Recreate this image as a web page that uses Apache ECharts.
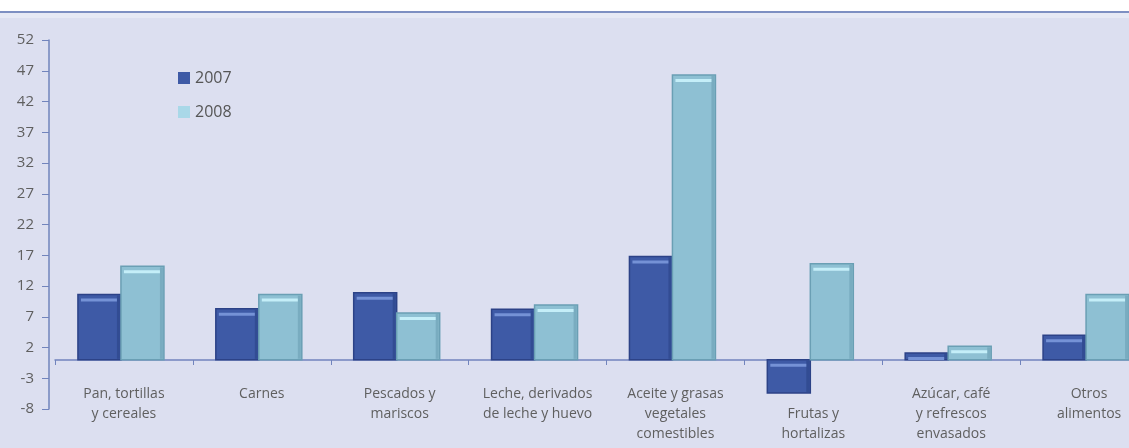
<!DOCTYPE html>
<html>
<head>
<meta charset="utf-8">
<script src="https://cdn.jsdelivr.net/npm/echarts@6/dist/echarts.min.js"></script>
<style>
  html, body { margin: 0; padding: 0; background: #ffffff; }
  #chart { width: 1129px; height: 448px; }
</style>
</head>
<body>
<div id="chart"></div>
<script>
const categorias = [
  "Pan, tortillas\ny cereales",
  "Carnes",
  "Pescados y\nmariscos",
  "Leche, derivados\nde leche y huevo",
  "Aceite y grasas\nvegetales\ncomestibles",
  "Frutas y\nhortalizas",
  "Azúcar, café\ny refrescos\nenvasados",
  "Otros\nalimentos"
];
const valores2007 = [10.6, 8.3, 10.9, 8.2, 16.8, -5.4, 1.1, 4.0];
const valores2008 = [15.2, 10.6, 7.6, 8.9, 46.3, 15.6, 2.2, 10.6];
const anios = ["2007", "2008"];

const colores = {
  "2007": { cuerpo: "#3e5aa6", borde: "#2c4287", franja: "#7592d6" },
  "2008": { cuerpo: "#8ec0d3", borde: "#6a9fb4", franja: "#c4eef8" }
};

const ANCHO = 43;

// barra con bisel: cuerpo, borde y franja clara arriba
const dibujarBarra = (lado, c) => (params, api) => {
  const cat = api.value(0);
  const val = api.value(1);
  const base = api.coord([cat, 0]);
  const tope = api.coord([cat, val]);
  const x = base[0] - 3 + (lado < 0 ? -ANCHO : 0);
  const y = Math.min(base[1], tope[1]);
  const h = Math.abs(base[1] - tope[1]);
  return {
    type: "group",
    children: [
      { type: "rect", shape: { x: x, y: y, width: ANCHO, height: h },
        style: { fill: c.cuerpo, stroke: c.borde, lineWidth: 1.5 } },
      { type: "rect", shape: { x: x + ANCHO - 4, y: y + 1, width: 3, height: Math.max(h - 2, 0) },
        style: { fill: c.borde, opacity: 0.6 } },
      { type: "rect", shape: { x: x + 3, y: y + 4, width: ANCHO - 7, height: Math.min(3, h) },
        style: { fill: c.franja } }
    ]
  };
};

const chart = echarts.init(document.getElementById("chart"));

chart.setOption({
  backgroundColor: "#dcdff0",
  animation: false,
  graphic: [
    { type: "rect", shape: { x: 0, y: 0, width: 1129, height: 11 }, style: { fill: "#ffffff" } },
    { type: "rect", shape: { x: 0, y: 11, width: 1129, height: 2 }, style: { fill: "#7d8fc2" } },
    { type: "rect", shape: { x: 0, y: 13, width: 1129, height: 5 }, style: { fill: "#e6e9f5" } }
  ],
  legend: {
    orient: "vertical",
    left: 173,
    top: 65,
    itemWidth: 12,
    itemHeight: 12,
    itemGap: 18,
    icon: "rect",
    textStyle: { color: "#555", fontSize: 16, fontFamily: "Open Sans" },
    data: anios
  },
  grid: { left: 55, right: -29, top: 40, bottom: 39, outerBoundsMode: "none" },
  xAxis: {
    type: "category",
    data: categorias,
    offset: -49,
    axisLine: { onZero: false, lineStyle: { color: "#7184bd", width: 1.5 } },
    axisTick: { show: true, length: 5, lineStyle: { color: "#7184bd" } },
    axisLabel: {
      color: "#5f5f5f",
      fontSize: 14,
      fontFamily: "Open Sans",
      lineHeight: 20,
      margin: 24,
      interval: 0,
      // la barra negativa de Frutas empuja su rótulo una línea abajo
      formatter: (v, i) => (valores2007[i] < 0 ? "\n" + v : v)
    }
  },
  yAxis: {
    type: "value",
    min: -8,
    max: 52,
    interval: 5,
    offset: 6,
    splitLine: { show: false },
    axisLine: { show: true, lineStyle: { color: "#7184bd", width: 1.5 } },
    axisTick: { show: true, length: 7, lineStyle: { color: "#7184bd" } },
    axisLabel: { color: "#5f5f5f", fontSize: 15, fontFamily: "Open Sans", margin: 15 }
  },
  series: [
    {
      name: "2007",
      type: "custom",
      itemStyle: { color: colores["2007"].cuerpo },
      renderItem: dibujarBarra(-1, colores["2007"]),
      encode: { x: 0, y: 1 },
      data: valores2007.map((v, i) => [i, v])
    },
    {
      name: "2008",
      type: "custom",
      itemStyle: { color: "#a9d8e8" },
      renderItem: dibujarBarra(1, colores["2008"]),
      encode: { x: 0, y: 1 },
      data: valores2008.map((v, i) => [i, v])
    }
  ]
});
</script>
</body>
</html>
